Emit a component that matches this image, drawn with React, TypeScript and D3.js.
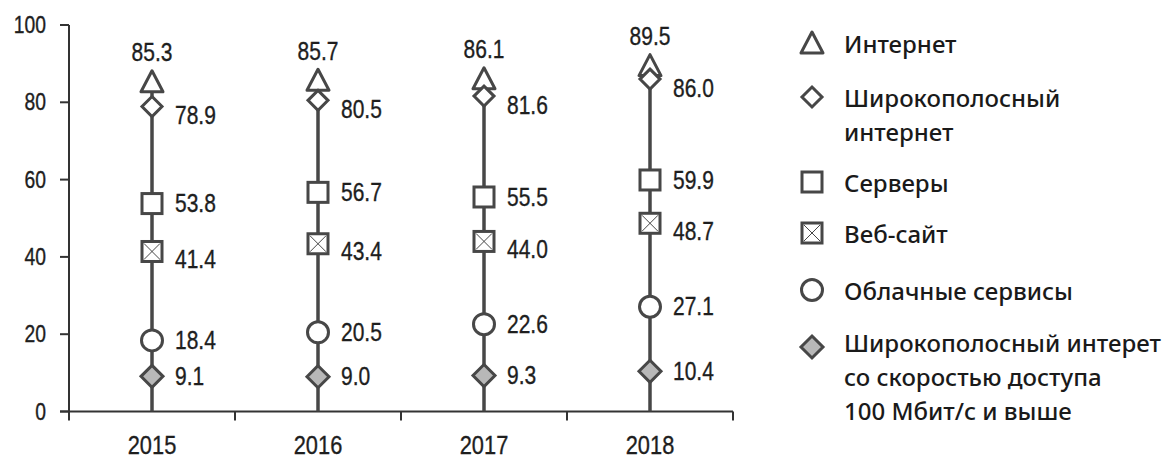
import React from "react";
import * as d3 from "d3";

const years = ["2015", "2016", "2017", "2018"];
const internet = [85.3, 85.7, 86.1, 89.5];
const broadband = [78.9, 80.5, 81.6, 86.0];
const servers = [53.8, 56.7, 55.5, 59.9];
const website = [41.4, 43.4, 44.0, 48.7];
const cloud = [18.4, 20.5, 22.6, 27.1];
const fastBroadband = [9.1, 9.0, 9.3, 10.4];
const yTicks = [0, 20, 40, 60, 80, 100];
const legendLabels = [
  ["Интернет"],
  ["Широкополосный", "интернет"],
  ["Серверы"],
  ["Веб-сайт"],
  ["Облачные сервисы"],
  ["Широкополосный интерет", "со скоростью доступа", "100 Мбит/с и выше"],
];

const STROKE = "#474747";
const NUM_FONT = "'Liberation Sans', Arial, sans-serif";
const LEG_FONT = "'Noto Sans', 'Open Sans', sans-serif";

type Kind = "triangle" | "diamond" | "square" | "xsquare" | "circle" | "fdiamond";

function NText({ x, y, anchor = "start", size, children }: { x: number; y: number; anchor?: string; size: number; children: React.ReactNode }) {
  return (
    <g transform={`translate(${x},${y}) scale(0.84,1)`}>
      <text x={0} y={0} textAnchor={anchor} dominantBaseline="central" fontFamily={NUM_FONT} fontSize={size} fill="#1e1e1e" stroke="#1e1e1e" strokeWidth={0.35}>
        {children}
      </text>
    </g>
  );
}

function Marker({ kind, x, y }: { kind: Kind; x: number; y: number }) {
  const common = { stroke: STROKE, strokeWidth: 3, fill: "#fff" };
  switch (kind) {
    case "triangle":
      return <path d={`M${x},${y - 11} L${x + 11},${y + 10} L${x - 11},${y + 10} Z`} {...common} strokeLinejoin="round" />;
    case "diamond":
      return <path d={`M${x},${y - 10} L${x + 10},${y} L${x},${y + 10} L${x - 10},${y} Z`} {...common} />;
    case "fdiamond":
      return <path d={`M${x},${y - 11} L${x + 11},${y} L${x},${y + 11} L${x - 11},${y} Z`} {...common} fill="#b8b8b8" />;
    case "square":
      return <rect x={x - 10} y={y - 10} width={20} height={20} {...common} />;
    case "xsquare":
      return (
        <g>
          <rect x={x - 10} y={y - 10} width={20} height={20} {...common} />
          <path d={`M${x - 8},${y - 8} L${x + 8},${y + 8} M${x + 8},${y - 8} L${x - 8},${y + 8}`} stroke={STROKE} strokeWidth={1} />
        </g>
      );
    case "circle":
      return <circle cx={x} cy={y} r={10.5} {...common} />;
  }
}

export default function App() {
  const W = 1163, H = 459;
  const x0 = 69, x1 = 733;
  const y = d3.scaleLinear().domain([0, 100]).range([411.5, 25]);
  const x = d3.scaleBand().domain(years).range([x0, x1]);
  const cx = (yr: string) => (x(yr) as number) + x.bandwidth() / 2;

  const series: { kind: Kind; data: number[]; dy: number }[] = [
    { kind: "triangle", data: internet, dy: 0 },
    { kind: "diamond", data: broadband, dy: 9 },
    { kind: "square", data: servers, dy: 0 },
    { kind: "xsquare", data: website, dy: 8 },
    { kind: "circle", data: cloud, dy: 0 },
    { kind: "fdiamond", data: fastBroadband, dy: 0 },
  ];

  const legendRows = [43, 97, 182, 233, 290, 342];
  const legendMarkerDy = [0, 0, 0, 0, 0, 5];

  return (
    <svg width={W} height={H} style={{ display: "block", position: "absolute", left: 0, top: 0, background: "#fff" }}>
      <rect width={W} height={H} fill="#fff" />
      {/* y axis */}
      <line x1={x0} x2={x0} y1={y(100)} y2={y(0)} stroke="#333" strokeWidth={2} />
      {yTicks.map((t) => (
        <g key={t}>
          <line x1={x0 - 9} x2={x0} y1={y(t)} y2={y(t)} stroke="#333" strokeWidth={2} />
          <NText x={46} y={y(t)} anchor="end" size={23}>{t}</NText>
        </g>
      ))}
      {/* x axis */}
      <line x1={x0 - 9} x2={x1} y1={y(0)} y2={y(0)} stroke="#333" strokeWidth={2} />
      {years.concat(["end"]).map((yr, i) => {
        const tx = x0 + i * x.bandwidth();
        return <line key={yr} x1={tx} x2={tx} y1={y(0)} y2={y(0) + 9} stroke="#333" strokeWidth={2} />;
      })}
      {years.map((yr) => (
        <NText key={yr} x={cx(yr)} y={445} anchor="middle" size={26}>{yr}</NText>
      ))}
      {/* vertical lines */}
      {years.map((yr, i) => (
        <line key={yr} x1={cx(yr)} x2={cx(yr)} y1={y(0)} y2={y(internet[i])} stroke={STROKE} strokeWidth={3.5} />
      ))}
      {/* markers + labels */}
      {series.map((s) =>
        years.map((yr, i) => {
          const px = cx(yr);
          const py = y(s.data[i]);
          return (
            <g key={s.kind + yr}>
              <Marker kind={s.kind} x={px} y={py} />
              {s.kind === "triangle" ? (
                <NText x={px} y={py - 29} anchor="middle" size={25}>{s.data[i].toFixed(1)}</NText>
              ) : (
                <NText x={px + 23} y={py + s.dy} size={25}>{s.data[i].toFixed(1)}</NText>
              )}
            </g>
          );
        })
      )}
      {/* legend */}
      {series.map((s, i) => (
        <g key={"leg" + i}>
          <Marker kind={s.kind} x={812} y={legendRows[i] + legendMarkerDy[i]} />
          {legendLabels[i].map((ln, j) => (
            <text key={j} x={844} y={legendRows[i] + j * 34} dominantBaseline="central" fontFamily={LEG_FONT} fontSize={24} fontWeight={500} fill="#1a1a1a">
              {ln}
            </text>
          ))}
        </g>
      ))}
    </svg>
  );
}
